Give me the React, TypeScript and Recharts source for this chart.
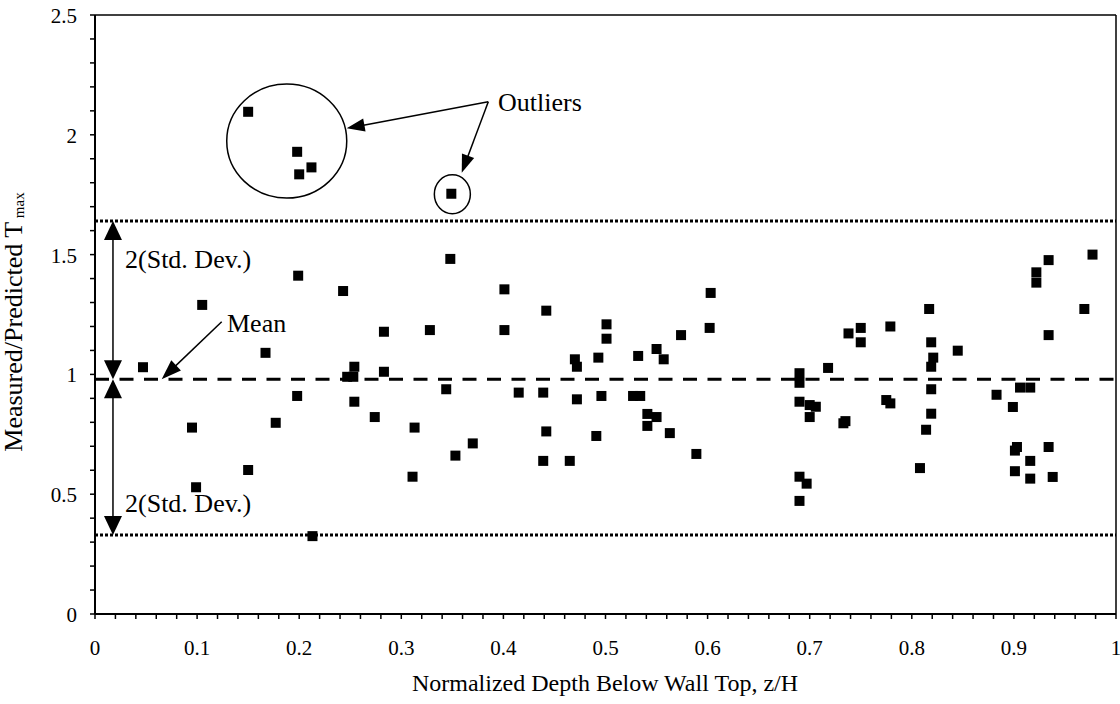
import React from 'react';
import { ScatterChart, Scatter, XAxis, YAxis, ReferenceLine, ReferenceDot } from 'recharts';

// normalized depth z/H
const depth = [
  0.047, 0.095, 0.099, 0.105, 0.150, 0.150, 0.167, 0.177, 0.198, 0.199,
  0.198, 0.200, 0.212, 0.213, 0.243, 0.247, 0.253, 0.254, 0.254, 0.274,
  0.283, 0.283, 0.311, 0.313, 0.328, 0.344, 0.348, 0.349, 0.353, 0.370,
  0.401, 0.401, 0.415, 0.439, 0.439, 0.442, 0.442, 0.465, 0.470, 0.472,
  0.472, 0.491, 0.493, 0.496, 0.501, 0.501, 0.527, 0.534, 0.532, 0.541,
  0.541, 0.550, 0.550, 0.557, 0.563, 0.574, 0.589, 0.602, 0.603, 0.690,
  0.690, 0.690, 0.690, 0.690, 0.697, 0.700, 0.706, 0.700, 0.718, 0.733,
  0.735, 0.738, 0.750, 0.750, 0.775, 0.779, 0.779, 0.808, 0.814, 0.817,
  0.819, 0.821, 0.819, 0.819, 0.819, 0.845, 0.883, 0.899, 0.901, 0.903,
  0.901, 0.906, 0.916, 0.916, 0.916, 0.922, 0.922, 0.934, 0.934, 0.934,
  0.938, 0.969, 0.977,
];

// measured / predicted Tmax
const ratio = [
  1.03, 0.778, 0.529, 1.29, 0.601, 2.096, 1.09, 0.798, 0.91, 1.412,
  1.929, 1.835, 1.864, 0.325, 1.348, 0.99, 0.99, 1.032, 0.886, 0.822,
  1.178, 1.011, 0.573, 0.778, 1.185, 0.938, 1.482, 1.754, 0.661, 0.712,
  1.355, 1.185, 0.924, 0.924, 0.639, 1.266, 0.762, 0.639, 1.063, 1.032,
  0.896, 0.743, 1.07, 0.91, 1.209, 1.149, 0.91, 0.91, 1.077, 0.835,
  0.785, 1.106, 0.822, 1.063, 0.755, 1.164, 0.668, 1.194, 1.34, 1.005,
  0.965, 0.886, 0.573, 0.472, 0.544, 0.872, 0.865, 0.822, 1.027, 0.796,
  0.805, 1.171, 1.194, 1.134, 0.893, 0.879, 1.2, 0.609, 0.769, 1.273,
  1.134, 1.07, 1.032, 0.938, 0.836, 1.099, 0.915, 0.864, 0.682, 0.697,
  0.596, 0.945, 0.945, 0.639, 0.565, 1.426, 1.383, 1.477, 1.164, 0.697,
  0.572, 1.273, 1.5,
];

const xTickLabels = [0, 0.1, 0.2, 0.3, 0.4, 0.5, 0.6, 0.7, 0.8, 0.9, 1];
const yTickLabels = [0, 0.5, 1, 1.5, 2, 2.5];

const meanRatio = 0.98;
const upperBound = 1.64;
const lowerBound = 0.33;

const points = depth.map((z, i) => ({ z, ratio: ratio[i] }));

// minor tick positions (every 0.02 on x, every 0.1 on y)
const xMinor = Array.from({ length: 51 }, (_, i) => +(i * 0.02).toFixed(2));
const yMinor = Array.from({ length: 26 }, (_, i) => +(i * 0.1).toFixed(1));

const FONT = '"Liberation Serif", "Times New Roman", serif';

const isLabel = (list: number[], v: number) => list.some((t) => Math.abs(t - v) < 1e-6);

const XTick = (props: any) => {
  const { x, y, payload } = props;
  if (!isLabel(xTickLabels, payload.value)) return <g />;
  return (
    <text x={x} y={y} dy={34} textAnchor="middle" fontFamily={FONT} fontSize={21} fill="#000">
      {payload.value}
    </text>
  );
};

const YTick = (props: any) => {
  const { x, y, payload } = props;
  if (!isLabel(yTickLabels, payload.value)) return <g />;
  return (
    <text x={x - 11} y={y} dy={8} textAnchor="end" fontFamily={FONT} fontSize={21} fill="#000">
      {payload.value}
    </text>
  );
};

const arrow = (headLen: number, headW: number, both: boolean) => (p: any) => {
  const { x1, y1, x2, y2 } = p;
  const dx = x2 - x1;
  const dy = y2 - y1;
  const len = Math.sqrt(dx * dx + dy * dy) || 1;
  const ux = dx / len;
  const uy = dy / len;
  const head = (tx: number, ty: number, sx: number, sy: number) => {
    const bx = tx - sx * headLen;
    const by = ty - sy * headLen;
    return `${tx},${ty} ${bx - sy * headW / 2},${by + sx * headW / 2} ${bx + sy * headW / 2},${by - sx * headW / 2}`;
  };
  const sx = both ? x1 + ux * headLen * 0.8 : x1;
  const sy = both ? y1 + uy * headLen * 0.8 : y1;
  return (
    <g>
      <line x1={sx} y1={sy} x2={x2 - ux * headLen * 0.8} y2={y2 - uy * headLen * 0.8} stroke="#000" strokeWidth={1.5} />
      <polygon points={head(x2, y2, ux, uy)} fill="#000" />
      {both && <polygon points={head(x1, y1, -ux, -uy)} fill="#000" />}
    </g>
  );
};

const ellipse = (rx: number, ry: number) => (p: any) => (
  <ellipse cx={p.cx} cy={p.cy} rx={rx} ry={ry} fill="none" stroke="#000" strokeWidth={1.5} />
);

const note = (text: string, size: number) => (p: any) => (
  <text x={p.cx} y={p.cy} fontFamily={FONT} fontSize={size} fill="#000">
    {text}
  </text>
);

const square = (p: any) => <rect x={p.cx - 5} y={p.cy - 5} width={10} height={10} fill="#000" />;

export default function App() {
  return (
    <div style={{ position: 'absolute', left: 0, top: 0, width: 1120, height: 704, background: '#fff' }}>
      <ScatterChart width={1120} height={704} margin={{ top: 15, right: 4, left: 0, bottom: 0 }}>
        <XAxis
          type="number"
          dataKey="z"
          domain={[0, 1]}
          ticks={xMinor}
          interval={0}
          height={90}
          tickSize={5}
          tick={<XTick />}
          tickLine={{ stroke: '#000', strokeWidth: 1.5 }}
          axisLine={{ stroke: '#000', strokeWidth: 2 }}
          label={{
            content: () => (
              <text x={605} y={691} textAnchor="middle" fontFamily={FONT} fontSize={24} fill="#000">
                Normalized Depth Below Wall Top, z/H
              </text>
            ),
          }}
        />
        <YAxis
          type="number"
          dataKey="ratio"
          domain={[0, 2.5]}
          ticks={yMinor}
          interval={0}
          width={95}
          tickSize={5}
          tick={<YTick />}
          tickLine={{ stroke: '#000', strokeWidth: 1.5 }}
          axisLine={{ stroke: '#000', strokeWidth: 2 }}
          label={{
            content: () => (
              <text
                x={22}
                y={322}
                transform="rotate(-90, 22, 322)"
                textAnchor="middle"
                fontFamily={FONT}
                fontSize={26}
                fill="#000"
              >
                Measured/Predicted T
                <tspan fontSize={15} dy={2}> max</tspan>
              </text>
            ),
          }}
        />

        <ReferenceLine y={2.5} stroke="#000" strokeWidth={1.5} />
        <ReferenceLine x={1} stroke="#000" strokeWidth={1.5} />

        <ReferenceLine y={upperBound} stroke="#000" strokeWidth={3} strokeDasharray="3 2" />
        <ReferenceLine y={lowerBound} stroke="#000" strokeWidth={3} strokeDasharray="3 2" />
        <ReferenceLine y={meanRatio} stroke="#000" strokeWidth={3} strokeDasharray="14 10.5" />

        {/* 2(Std. Dev.) arrows */}
        <ReferenceLine
          segment={[{ x: 0.0176, y: meanRatio }, { x: 0.0176, y: upperBound }]}
          shape={arrow(19, 18, true)}
        />
        <ReferenceLine
          segment={[{ x: 0.0176, y: meanRatio }, { x: 0.0176, y: lowerBound }]}
          shape={arrow(19, 18, true)}
        />
        <ReferenceDot x={0.0294} y={1.444} r={0} shape={note('2(Std. Dev.)', 26)} />
        <ReferenceDot x={0.0294} y={0.426} r={0} shape={note('2(Std. Dev.)', 26)} />

        {/* Mean label */}
        <ReferenceLine
          segment={[{ x: 0.1241, y: 1.22 }, { x: 0.0653, y: meanRatio }]}
          shape={arrow(20, 14, false)}
        />
        <ReferenceDot x={0.1293} y={1.177} r={0} shape={note('Mean', 26)} />

        {/* Outliers */}
        <ReferenceDot x={0.1878} y={1.974} r={0} shape={ellipse(60, 57)} />
        <ReferenceDot x={0.35} y={1.752} r={0} shape={ellipse(18, 19.5)} />
        <ReferenceLine
          segment={[{ x: 0.3852, y: 2.138 }, { x: 0.2465, y: 2.027 }]}
          shape={arrow(18, 13, false)}
        />
        <ReferenceLine
          segment={[{ x: 0.3852, y: 2.138 }, { x: 0.3592, y: 1.842 }]}
          shape={arrow(18, 13, false)}
        />
        <ReferenceDot x={0.3947} y={2.099} r={0} shape={note('Outliers', 26)} />

        <Scatter data={points} fill="#000" shape={square} isAnimationActive={false} />
      </ScatterChart>
    </div>
  );
}
